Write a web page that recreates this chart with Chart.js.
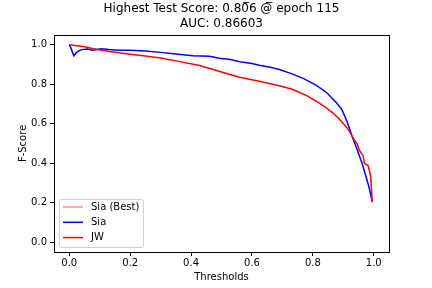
<!DOCTYPE html>
<html>
<head>
<meta charset="utf-8">
<script src="https://cdn.jsdelivr.net/npm/chart.js@4/dist/chart.umd.min.js"></script>
<style>
  html, body { margin: 0; padding: 0; background: #fff; }
  #wrap { width: 432px; height: 288px; }
</style>
</head>
<body>
<div id="wrap"><canvas id="chart1"></canvas></div>
<script>
// data
const titleLines = ["Highest Test Score: 0.80\u03056 @\u0305 epoch 115", "AUC: 0.86603"];
const xTicks = [0.0, 0.2, 0.4, 0.6, 0.8, 1.0];
const yTicks = [0.0, 0.2, 0.4, 0.6, 0.8, 1.0];

const siaThresholds = [0, 0.005, 0.015, 0.025, 0.04, 0.06, 0.075, 0.09, 0.105, 0.13, 0.16, 0.2, 0.25, 0.3, 0.35, 0.406, 0.46, 0.493, 0.53, 0.56, 0.6, 0.624, 0.66, 0.69, 0.732, 0.77, 0.81, 0.845, 0.876, 0.895, 0.912, 0.929, 0.945, 0.962, 0.975, 0.985, 0.995];
const siaScores = [1.0, 0.985, 0.944, 0.962, 0.975, 0.978, 0.972, 0.976, 0.979, 0.975, 0.972, 0.972, 0.968, 0.961, 0.953, 0.944, 0.941, 0.931, 0.925, 0.914, 0.905, 0.896, 0.886, 0.874, 0.852, 0.828, 0.795, 0.758, 0.708, 0.672, 0.612, 0.535, 0.47, 0.397, 0.33, 0.275, 0.204];

const jwThresholds = [0, 0.05, 0.1, 0.15, 0.2, 0.25, 0.3, 0.35, 0.428, 0.5, 0.559, 0.624, 0.69, 0.732, 0.78, 0.82, 0.842, 0.865, 0.886, 0.905, 0.918, 0.935, 0.946, 0.952, 0.958, 0.965, 0.969, 0.975, 0.981, 0.986, 0.99, 0.995];
const jwScores = [1.0, 0.99, 0.973, 0.962, 0.952, 0.943, 0.933, 0.918, 0.894, 0.862, 0.835, 0.815, 0.792, 0.774, 0.742, 0.705, 0.683, 0.655, 0.625, 0.592, 0.566, 0.52, 0.495, 0.468, 0.452, 0.44, 0.4, 0.394, 0.389, 0.36, 0.33, 0.204];

const seriesNames = ["Sia (Best)", "Sia", "JW"];
const seriesColors = ["rgba(255,0,0,0.45)", "#0000ff", "#ff0000"];

function toPoints(xs, ys) {
  return xs.map((x, i) => ({ x: x, y: ys[i] }));
}

// frame + legend drawn inside the plot
const framePlugin = {
  id: 'frame',
  afterDraw(chart) {
    const c = chart.ctx;
    const a = chart.chartArea;
    c.save();
    c.strokeStyle = '#000';
    c.lineWidth = 1;
    c.strokeRect(Math.round(a.left) + 0.5, Math.round(a.top) + 0.5, Math.round(a.right - a.left), Math.round(a.bottom - a.top));

    // legend box
    const lx = a.left + 5, ly = a.bottom - 53, lw = 84, lh = 48;
    c.fillStyle = 'rgba(255,255,255,0.8)';
    c.strokeStyle = '#d0d0d0';
    c.beginPath();
    c.roundRect(lx + 0.5, ly + 0.5, lw, lh, 2);
    c.fill();
    c.stroke();
    c.font = '10px "DejaVu Sans"';
    c.textBaseline = 'middle';
    seriesNames.forEach((name, i) => {
      const yy = ly + 8 + i * 15.3;
      c.strokeStyle = seriesColors[i];
      c.lineWidth = 1.5;
      c.beginPath();
      c.moveTo(lx + 4, yy);
      c.lineTo(lx + 24, yy);
      c.stroke();
      c.fillStyle = '#000';
      c.fillText(name, lx + 32, yy);
    });
    c.restore();
  }
};

const ctx1 = document.getElementById('chart1').getContext('2d');
new Chart(ctx1, {
  type: 'line',
  data: {
    datasets: [
      { label: seriesNames[0], data: [], borderColor: seriesColors[0], order: 2 },
      { label: seriesNames[1], data: toPoints(siaThresholds, siaScores), borderColor: seriesColors[1], order: 1 },
      { label: seriesNames[2], data: toPoints(jwThresholds, jwScores), borderColor: seriesColors[2], order: 0 }
    ]
  },
  options: {
    responsive: true,
    maintainAspectRatio: false,
    animation: false,
    devicePixelRatio: 1,
    elements: {
      point: { radius: 0 },
      line: { borderWidth: 1.5, tension: 0, fill: false }
    },
    layout: { padding: { top: 0, right: 0, left: 11, bottom: 0 } },
    plugins: {
      legend: { display: false },
      tooltip: { enabled: false },
      title: {
        display: true,
        text: titleLines,
        color: '#000',
        font: { family: 'DejaVu Sans', size: 12, weight: 'normal', lineHeight: 1.2 },
        padding: { top: 2, bottom: 4 }
      }
    },
    scales: {
      x: {
        type: 'linear',
        min: -0.05,
        max: 1.05,
        afterBuildTicks: (axis) => { axis.ticks = xTicks.map(v => ({ value: v })); },
        afterFit: (axis) => { axis.height = 36; },
        grid: { display: true, drawOnChartArea: false, drawTicks: true, tickLength: 4, color: '#000' },
        border: { display: false },
        ticks: {
          color: '#000',
          padding: 1,
          maxRotation: 0,
          font: { family: 'DejaVu Sans', size: 10 },
          callback: (v) => v.toFixed(1)
        },
        title: {
          display: true,
          text: 'Thresholds',
          color: '#000',
          padding: { top: 1, bottom: 5 },
          font: { family: 'DejaVu Sans', size: 10 }
        }
      },
      y: {
        type: 'linear',
        min: -0.05,
        max: 1.05,
        afterBuildTicks: (axis) => { axis.ticks = yTicks.map(v => ({ value: v })); },
        afterFit: (axis) => { axis.width = 43; },
        grid: { display: true, drawOnChartArea: false, drawTicks: true, tickLength: 4, color: '#000' },
        border: { display: false },
        ticks: {
          color: '#000',
          padding: 3,
          font: { family: 'DejaVu Sans', size: 10 },
          callback: (v) => v.toFixed(1)
        },
        title: {
          display: true,
          text: 'F-Score',
          color: '#000',
          padding: { top: 6, bottom: 0 },
          font: { family: 'DejaVu Sans', size: 10 }
        }
      },
      // empty strip on the right, keeps the plot the same width as the reference
      yRight: {
        type: 'linear',
        position: 'right',
        display: true,
        afterFit: (axis) => { axis.width = 43; },
        grid: { display: false },
        border: { display: false },
        ticks: { display: false }
      }
    }
  },
  plugins: [framePlugin]
});
</script>
</body>
</html>
